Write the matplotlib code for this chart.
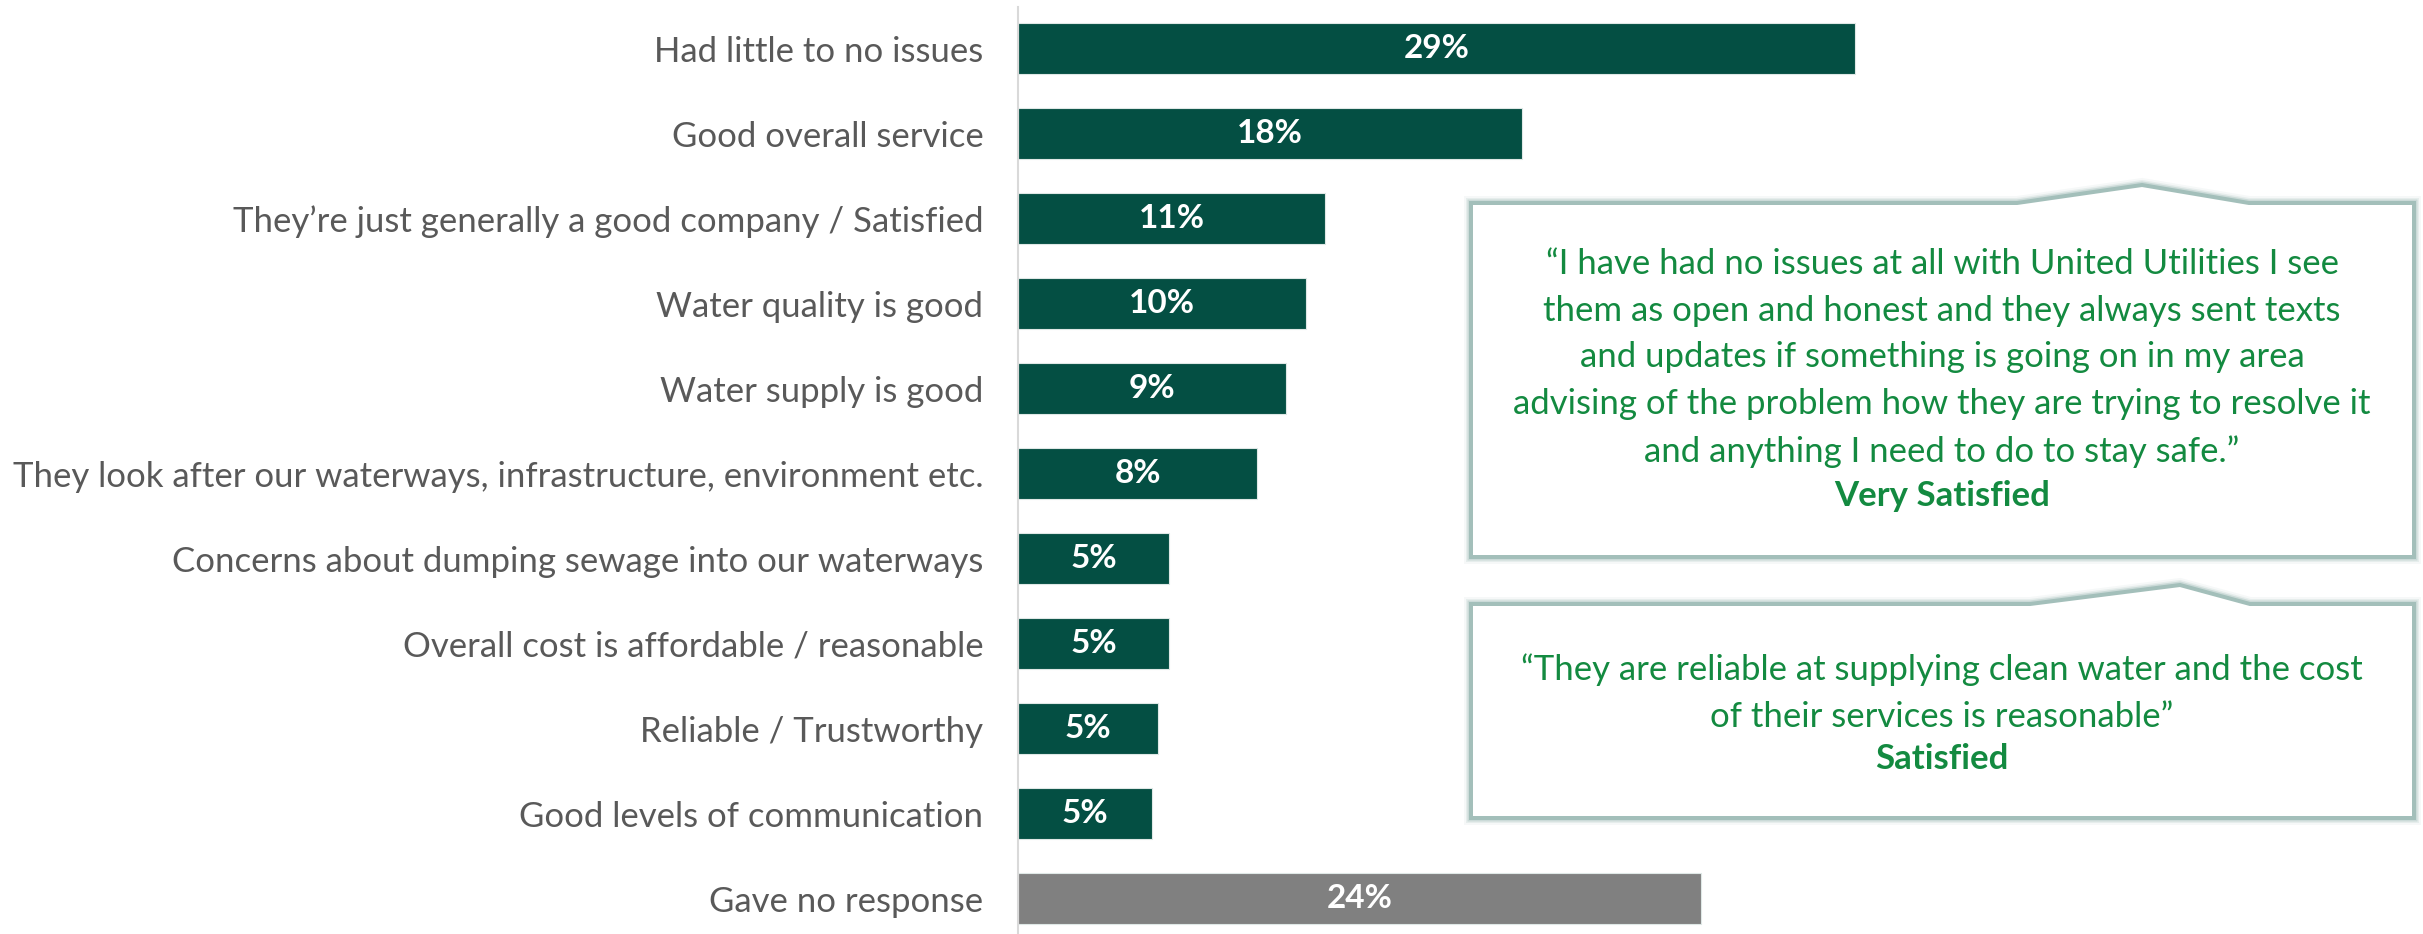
import matplotlib.pyplot as plt
from matplotlib.patches import Polygon

# Reasons for satisfaction rating (% of respondents)
categories = [
    "Had little to no issues",
    "Good overall service",
    "They\u2019re just generally a good company / Satisfied",
    "Water quality is good",
    "Water supply is good",
    "They look after our waterways, infrastructure, environment etc.",
    "Concerns about dumping sewage into our waterways",
    "Overall cost is affordable / reasonable",
    "Reliable / Trustworthy",
    "Good levels of communication",
    "Gave no response",
]
values = [29.4, 17.7, 10.8, 10.1, 9.4, 8.4, 5.3, 5.3, 4.9, 4.7, 24.0]

quote_1 = [
    "\u201cI have had no issues at all with United Utilities I see",
    "them as open and honest and they always sent texts",
    "and updates if something is going on in my area",
    "advising of the problem how they are trying to resolve it",
    "and anything I need to do to stay safe.\u201d",
]
quote_1_by = "Very Satisfied"
quote_2 = [
    "\u201cThey are reliable at supplying clean water and the cost",
    "of their services is reasonable\u201d",
]
quote_2_by = "Satisfied"

GREEN = "#044f43"
GREY = "#808080"
QUOTE = "#138a40"
plt.rcParams["font.family"] = ["Lato", "DejaVu Sans"]

W, H = 2423, 934
fig = plt.figure(figsize=(W / 100, H / 100), dpi=100)
ax = fig.add_axes([1018 / W, 0, (W - 1018) / W, 1 - 7 / H])

pos = list(range(len(categories)))
bar_colors = [GREEN] * (len(values) - 1) + [GREY]
ax.barh(pos, values, height=0.6, color=bar_colors, edgecolor="#dfe8e6", linewidth=0.8)
ax.set_ylim(len(values) - 1 + 0.415, -0.49)
ax.set_xlim(0, (W - 1018) / 28.47)

for p, v in zip(pos, values):
    ax.text(v / 2, p, f"{v:.0f}%", ha="center", va="center",
            color="white", fontsize=24, fontweight="bold")

ax.set_yticks(pos, categories, fontsize=25, color="#595959")
ax.tick_params(axis="y", length=0, pad=25)
ax.xaxis.set_visible(False)
for side in ["top", "right", "bottom"]:
    ax.spines[side].set_visible(False)
ax.spines["left"].set_color("#d9d9d9")
ax.spines["left"].set_linewidth(1.5)

# callout boxes drawn in pixel space
ov = fig.add_axes([0, 0, 1, 1])
ov.set_xlim(0, W)
ov.set_ylim(H, 0)
ov.axis("off")


def callout(pts):
    for lw, a in [(14, 0.08), (10, 0.15), (7, 0.3)]:
        ov.add_patch(Polygon(pts, closed=True, fill=False, edgecolor="#8fb0aa",
                             linewidth=lw * 0.72, alpha=a, joinstyle="miter"))
    ov.add_patch(Polygon(pts, closed=True, facecolor="white", edgecolor="#a3bfba",
                         linewidth=4 * 0.72, joinstyle="miter"))


callout([(1471, 203), (2017, 203), (2142, 185), (2249, 203),
         (2414, 203), (2414, 557), (1471, 557)])
callout([(1471, 604), (2030, 604), (2180, 585), (2250, 604),
         (2414, 604), (2414, 818), (1471, 818)])

ov.text(1942, 358, "\n".join(quote_1), ha="center", va="center",
        fontsize=25, color=QUOTE, linespacing=1.56)
ov.text(1942, 496, quote_1_by, ha="center", va="center",
        fontsize=25, color=QUOTE, fontweight="bold")
ov.text(1942, 693, "\n".join(quote_2), ha="center", va="center",
        fontsize=25, color=QUOTE, linespacing=1.56)
ov.text(1942, 759, quote_2_by, ha="center", va="center",
        fontsize=25, color=QUOTE, fontweight="bold")

fig.savefig("out.png", dpi=100)
